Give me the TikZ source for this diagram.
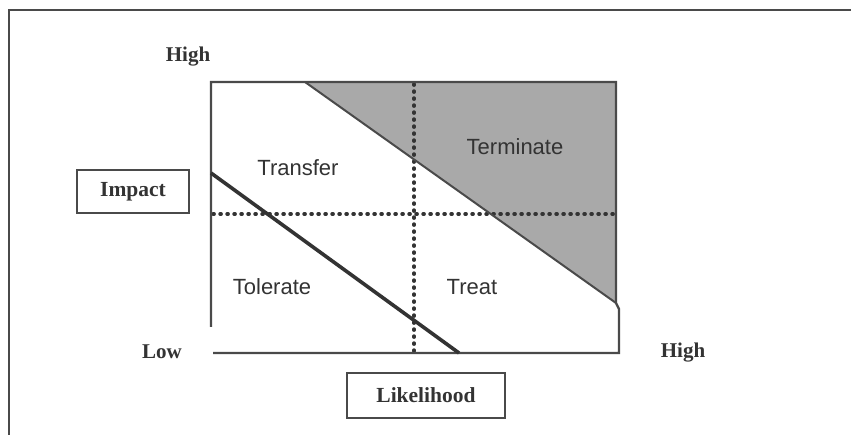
\documentclass[tikz,border=0pt]{standalone}
\usepackage{fontspec}
\setmainfont{Liberation Serif}
\newfontfamily\zonefont{Liberation Sans}
\definecolor{ink}{HTML}{333333}
\definecolor{edge}{HTML}{4A4A4A}
\definecolor{zonegray}{HTML}{A9A9A9}
\tikzset{
  frameline/.style={draw=edge, line width=2pt},
  gridline/.style={draw=edge, line width=2.4pt},
  splitline/.style={draw=ink, line width=3.6pt},
  dotline/.style={draw=ink, line width=3.4pt, line cap=round, dash pattern=on 1.2pt off 5.8pt},
  axislabel/.style={font=\bfseries\fontsize{21}{23}\selectfont, text=ink, inner sep=0pt},
  boxlabel/.style={draw=edge, line width=1.6pt, font=\bfseries\fontsize{21.5}{23}\selectfont, text=ink, inner sep=0pt},
  zonelabel/.style={font=\zonefont\fontsize{22}{24}\selectfont, text=ink, inner sep=0pt}
}
\begin{document}
\begin{tikzpicture}[x=1pt,y=-1pt]
\useasboundingbox (0,0) rectangle (851,435);
\fill[white] (0,0) rectangle (851,435);

% outer frame (left and top sides)
\draw[frameline] (9,435) -- (9,10) -- (851,10);

% matrix corners
\coordinate (tl) at (211,82);
\coordinate (tr) at (616,82);
\coordinate (lb) at (211,327);
\coordinate (rn) at (616,303);
\coordinate (rk) at (619,309);
\coordinate (br) at (619,353);
\coordinate (bl) at (213,353);
\coordinate (d1a) at (305,82);

% shaded "terminate" region
\fill[zonegray] (d1a) -- (tr) -- (rn) -- cycle;

% dotted quadrant dividers
\coordinate (vtop) at (414,84);
\coordinate (vbot) at (414,352);
\coordinate (hleft) at (213,214);
\coordinate (hright) at (615,214);
\draw[dotline] (vtop) -- (vbot);
\draw[dotline] (hleft) -- (hright);

% matrix outline
\draw[gridline, line join=miter] (lb) -- (tl) -- (tr) -- (rn) -- (rk) -- (br) -- (bl);

% zone boundaries
\draw[draw=edge, line width=2pt] (d1a) -- (rn);
\coordinate (d2a) at (211,173);
\coordinate (d2b) at (459,353);
\draw[splitline] (d2a) -- (d2b);

% zone names
\node[zonelabel] (transfer) at (298,168) {Transfer};
\node[zonelabel] (terminate) at (515,147) {Terminate};
\node[zonelabel] (tolerate) at (272,287) {Tolerate};
\node[zonelabel] (treat) at (472,287) {Treat};

% axis labels
\node[axislabel] (hightop) at (188,57) {High};
\node[axislabel] (low) at (162,352) {Low};
\node[axislabel] (highright) at (683,353) {High};
\node[boxlabel, minimum width=112pt, minimum height=43pt] (impact) at (133,191.5) {Impact};
\node[boxlabel, minimum width=158pt, minimum height=45pt] (likelihood) at (426,395.5) {Likelihood};
\end{tikzpicture}
\end{document}
